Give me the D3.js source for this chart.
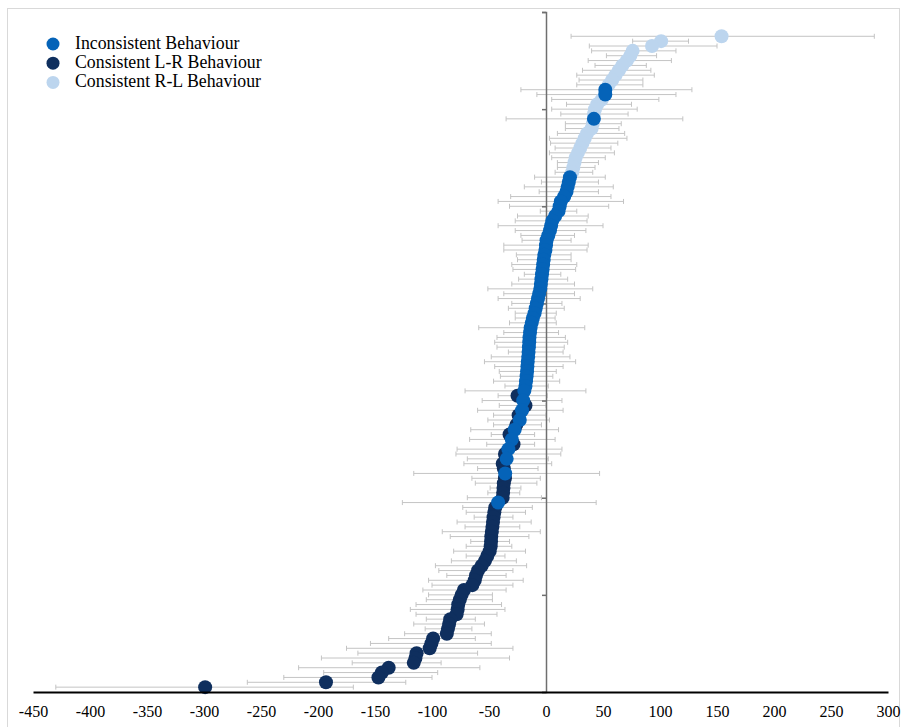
<!DOCTYPE html>
<html>
<head>
<meta charset="utf-8">
<script src="https://cdn.jsdelivr.net/npm/d3@7"></script>
<style>
  html, body { margin: 0; padding: 0; background: #fff; }
  svg { display: block; font-family: "Liberation Serif", "Times New Roman", serif; }
</style>
</head>
<body>
<div id="chart"></div>
<script>
// ---------------------------------------------------------------------------
// Data — one row per subject, listed from the top of the chart downward
// ---------------------------------------------------------------------------
const categories = ['Inconsistent Behaviour', 'Consistent L-R Behaviour', 'Consistent R-L Behaviour'];
const categoryCodes = ['I', 'L', 'R'];
const categoryColors = ['#0563b8', '#0f2f5e', '#bcd5ee'];

const means = [
  154, 101, 93, 76, 74, 71, 67, 64, 61, 58,
  55, 52, 52, 49, 45, 43, 42, 42, 41, 40,
  36, 34, 32, 30, 28, 26, 25, 24, 23, 21,
  20, 19, 18, 16, 13, 12, 11, 8, 5.5, 4.5,
  3.5, 2, 0.5, 0, -0.5, -1.5, -2, -2.5, -3, -3.5,
  -4, -4.5, -5, -6, -7, -8, -9, -10, -11.5, -12.5,
  -13.5, -14, -14.5, -14.7, -15, -15.3, -15.6, -16, -16.3, -16.6,
  -17, -17.5, -18, -19, -25, -20, -18, -21, -24, -23,
  -26, -27.5, -32, -30, -28.5, -33, -36, -34.5, -38, -37,
  -35.8, -36, -37, -37.3, -37.6, -38, -42, -44.5, -45.3, -46,
  -46.5, -47, -47.5, -48, -48.2, -48.5, -49.4, -51.5, -53.5, -56.4,
  -59.6, -61.4, -62.5, -64.6, -72, -74, -75.6, -77, -77.5, -78.4,
  -84, -85, -86, -87, -99, -100.5, -102, -113.5, -114.5, -116,
  -138, -144, -147, -193, -299
];
const lower = [
  22, 76, 38, 40, 53, 37, 43, 32, 27, 29,
  27, -22, -8, 5, 18, 5, 13, -35, 17, 17,
  10, 3, 4, 8, 3, 5, 10, 10, 8, -10,
  -4, -19, -6, -31, -42, -32, -5, -25, -27, -42,
  -27, -22, -21, -37, -37, -26, -25, -30, -29, -19,
  -24, -30, -51, -37, -42, -30, -33, -27, -27, -32,
  -59, -37, -43, -45, -43, -33, -48, -54, -45, -41,
  -40, -46, -36, -71, -42, -56, -41, -60, -46, -51,
  -46, -66, -48, -67, -52, -78, -79, -69, -72, -60,
  -116, -65, -62, -49, -51, -69, -126, -73, -70, -63,
  -78, -71, -91, -84, -66, -70, -81, -70, -83, -97,
  -94, -87, -103, -100, -108, -103, -105, -114, -119, -114,
  -105, -116, -106, -124, -138, -154, -175, -165, -197, -170,
  -217, -195, -230, -262, -430
];
const upper = [
  288, 125, 150, 114, 97, 110, 88, 92, 95, 85,
  85, 128, 114, 99, 75, 80, 72, 120, 66, 64,
  69, 71, 63, 57, 60, 52, 46, 43, 41, 52,
  46, 59, 46, 57, 68, 55, 27, 37, 36, 50,
  35, 25, 22, 37, 36, 22, 22, 27, 26, 13,
  19, 25, 41, 25, 30, 14, 16, 9, 8, 9,
  34, 11, 17, 19, 16, 15, 21, 26, 15, 9,
  6, 12, 2, 35, 1, 14, 0, 15, 0, 3,
  -4, 11, -10, 8, -10, 14, 13, 2, 5, -7,
  47, -5, -8, -22, -23, -4, 44, -12, -18, -29,
  -13, -23, -5, -15, -32, -30, -18, -36, -26, -17,
  -29, -35, -20, -29, -35, -47, -47, -39, -36, -43,
  -62, -54, -65, -48, -62, -48, -29, -60, -32, -92,
  -58, -95, -100, -123, -169
];
const groups = [
  'R', 'R', 'R', 'R', 'R', 'R', 'R', 'R', 'R', 'R',
  'R', 'I', 'I', 'R', 'R', 'R', 'R', 'I', 'R', 'R',
  'R', 'R', 'R', 'R', 'R', 'R', 'R', 'R', 'R', 'I',
  'I', 'I', 'I', 'I', 'I', 'I', 'I', 'I', 'I', 'I',
  'I', 'I', 'I', 'I', 'I', 'I', 'I', 'I', 'I', 'I',
  'I', 'I', 'I', 'I', 'I', 'I', 'I', 'I', 'I', 'I',
  'I', 'I', 'I', 'I', 'I', 'I', 'I', 'I', 'I', 'I',
  'I', 'I', 'I', 'I', 'L', 'I', 'L', 'I', 'L', 'I',
  'L', 'I', 'L', 'I', 'L', 'I', 'L', 'I', 'L', 'L',
  'I', 'L', 'L', 'L', 'L', 'L', 'I', 'L', 'L', 'L',
  'L', 'L', 'L', 'L', 'L', 'L', 'L', 'L', 'L', 'L',
  'L', 'L', 'L', 'L', 'L', 'L', 'L', 'L', 'L', 'L',
  'L', 'L', 'L', 'L', 'L', 'L', 'L', 'L', 'L', 'L',
  'L', 'L', 'L', 'L', 'L'
];

const xTickValues = [-450, -400, -350, -300, -250, -200, -150, -100, -50, 0, 50, 100, 150, 200, 250, 300];
const yTickValues = [0, 20, 40, 60, 80, 100, 120, 140];

// ---------------------------------------------------------------------------
// Chart
// ---------------------------------------------------------------------------
const totalW = 904;
const totalH = 727;

const svg = d3.select('#chart')
  .append('svg')
  .attr('width', totalW)
  .attr('height', totalH);

// outer frame
svg.append('rect')
  .attr('x', 7.5).attr('y', 8.5)
  .attr('width', 892).attr('height', 740)
  .attr('fill', 'none').attr('stroke', '#d9d9d9').attr('stroke-width', 1);

const x = d3.scaleLinear().domain([-450, 300]).range([33, 888]);
const y = d3.scaleLinear().domain([0, 140]).range([692, 12]);

// rank 1 = lowest row
const rows = means.map((m, i) => ({
  rank: means.length - i,
  mean: m,
  lo: lower[i],
  hi: upper[i],
  group: groups[i]
}));

// Error bars
const bars = svg.append('g').attr('class', 'error-bars')
  .attr('stroke', '#c4c4c4').attr('stroke-width', 1);

bars.selectAll('line.span').data(rows).join('line')
  .attr('class', 'span')
  .attr('x1', d => x(d.lo)).attr('x2', d => x(d.hi))
  .attr('y1', d => y(d.rank)).attr('y2', d => y(d.rank));
bars.selectAll('line.cap-lo').data(rows).join('line')
  .attr('class', 'cap-lo')
  .attr('x1', d => x(d.lo)).attr('x2', d => x(d.lo))
  .attr('y1', d => y(d.rank) - 2.5).attr('y2', d => y(d.rank) + 2.5);
bars.selectAll('line.cap-hi').data(rows).join('line')
  .attr('class', 'cap-hi')
  .attr('x1', d => x(d.hi)).attr('x2', d => x(d.hi))
  .attr('y1', d => y(d.rank) - 2.5).attr('y2', d => y(d.rank) + 2.5);

// Vertical axis at x = 0 (no labels)
const yAxis = svg.append('g')
  .attr('transform', `translate(${x(0)},0)`)
  .call(d3.axisLeft(y).tickValues(yTickValues).tickSize(4).tickFormat(''));
yAxis.select('.domain').attr('stroke', '#6f6f6f').attr('stroke-width', 1.5);
yAxis.selectAll('.tick line').attr('stroke', '#6f6f6f').attr('stroke-width', 1.5);

// Points — R-L first, then L-R, then Inconsistent on top
const colorOf = d3.scaleOrdinal().domain(categoryCodes).range(categoryColors);
['R', 'L', 'I'].forEach(code => {
  svg.append('g').selectAll('circle')
    .data(rows.filter(d => d.group === code))
    .join('circle')
    .attr('cx', d => x(d.mean))
    .attr('cy', d => y(d.rank))
    .attr('r', 7)
    .attr('fill', colorOf(code));
});

// Horizontal axis
const xAxis = svg.append('g')
  .attr('transform', `translate(0,${y(0)})`)
  .call(d3.axisBottom(x).tickValues(xTickValues).tickSize(0).tickPadding(14)
    .tickFormat(d => String(d)));
xAxis.select('.domain').attr('stroke', '#000').attr('stroke-width', 2.2);
xAxis.selectAll('.tick text')
  .attr('font-family', '"Liberation Serif", "Times New Roman", serif')
  .attr('font-size', '16px')
  .attr('fill', '#000');

// Legend
const legend = svg.append('g').attr('transform', 'translate(53,44)');
categories.forEach((c, i) => {
  const ly = i * 19.2;
  legend.append('circle')
    .attr('cx', 0).attr('cy', ly).attr('r', 6.5)
    .attr('fill', categoryColors[i]);
  legend.append('text')
    .attr('x', 22).attr('y', ly + 5)
    .attr('font-size', '17.8px').attr('fill', '#000')
    .text(c);
});
</script>
</body>
</html>
